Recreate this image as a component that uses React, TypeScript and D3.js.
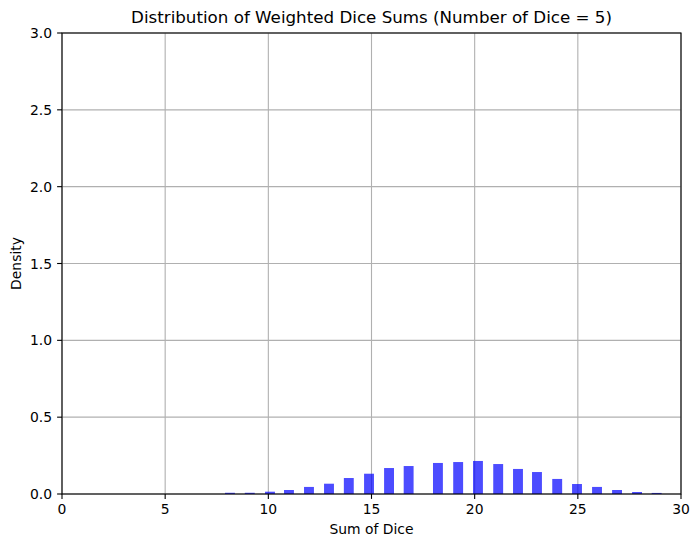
import React from "react";
import * as d3 from "d3";

// bar centres (sum of dice) and density heights
const binCenters = [
  8.14, 9.1, 10.08, 11.0, 11.97, 12.94, 13.9, 14.88, 15.85, 16.8,
  18.22, 19.2, 20.16, 21.14, 22.1, 23.02, 24.0, 24.96, 25.93, 26.9, 27.87, 28.82,
];
const densities = [
  0.008, 0.008, 0.015, 0.026, 0.046, 0.067, 0.104, 0.132, 0.169, 0.182,
  0.202, 0.208, 0.215, 0.195, 0.163, 0.143, 0.098, 0.065, 0.046, 0.026, 0.013, 0.007,
];
const barWidth = 0.48;

const xTicks = [0, 5, 10, 15, 20, 25, 30];
const yTicks = [0, 0.5, 1.0, 1.5, 2.0, 2.5, 3.0];

const title = "Distribution of Weighted Dice Sums (Number of Dice = 5)";
const xLabel = "Sum of Dice";
const yLabel = "Density";

export default function App() {
  const width = 700;
  const height = 547;
  const margin = { top: 33, right: 19, bottom: 53, left: 62 };

  const x = d3
    .scaleLinear()
    .domain([0, 30])
    .range([margin.left, width - margin.right]);
  const y = d3
    .scaleLinear()
    .domain([0, 3])
    .range([height - margin.bottom, margin.top]);

  const font = "DejaVu Sans, sans-serif";
  const x0 = margin.left;
  const x1 = width - margin.right;
  const y0 = height - margin.bottom;
  const y1 = margin.top;
  const lw = 1.1;
  const tickLen = 4.9;

  return (
    <svg
      width={width}
      height={height}
      style={{ position: "absolute", left: 0, top: 0, background: "#fff" }}
      fontFamily={font}
    >
      {/* grid */}
      {xTicks.map((t) => (
        <line key={"gx" + t} x1={x(t)} x2={x(t)} y1={y0} y2={y1} stroke="#b0b0b0" strokeWidth={lw} />
      ))}
      {yTicks.map((t) => (
        <line key={"gy" + t} x1={x0} x2={x1} y1={y(t)} y2={y(t)} stroke="#b0b0b0" strokeWidth={lw} />
      ))}

      {/* bars */}
      {binCenters.map((c, i) => (
        <rect
          key={i}
          x={x(c - barWidth / 2)}
          width={x(c + barWidth / 2) - x(c - barWidth / 2)}
          y={y(densities[i])}
          height={y0 - y(densities[i])}
          fill="#0000ff"
          fillOpacity={0.7}
        />
      ))}

      {/* frame */}
      <rect x={x0} y={y1} width={x1 - x0} height={y0 - y1} fill="none" stroke="#000" strokeWidth={lw} />

      {/* x ticks */}
      {xTicks.map((t) => (
        <g key={"tx" + t}>
          <line x1={x(t)} x2={x(t)} y1={y0} y2={y0 + tickLen} stroke="#000" strokeWidth={lw} />
          <text x={x(t)} y={y0 + 16} textAnchor="middle" fontSize={13.9} dominantBaseline="middle">
            {t}
          </text>
        </g>
      ))}

      {/* y ticks */}
      {yTicks.map((t) => (
        <g key={"ty" + t}>
          <line x1={x0 - tickLen} x2={x0} y1={y(t)} y2={y(t)} stroke="#000" strokeWidth={lw} />
          <text x={x0 - 10} y={y(t)} textAnchor="end" fontSize={13.9} dominantBaseline="central">
            {t.toFixed(1)}
          </text>
        </g>
      ))}

      <text x={(x0 + x1) / 2} y={y0 + 36} textAnchor="middle" fontSize={13.9} dominantBaseline="middle">
        {xLabel}
      </text>
      <text
        transform={`translate(17 ${(y0 + y1) / 2}) rotate(-90)`}
        textAnchor="middle"
        fontSize={13.9}
        dominantBaseline="middle"
      >
        {yLabel}
      </text>
      <text x={(x0 + x1) / 2} y={y1 - 15} textAnchor="middle" fontSize={16.7} dominantBaseline="middle">
        {title}
      </text>
    </svg>
  );
}
